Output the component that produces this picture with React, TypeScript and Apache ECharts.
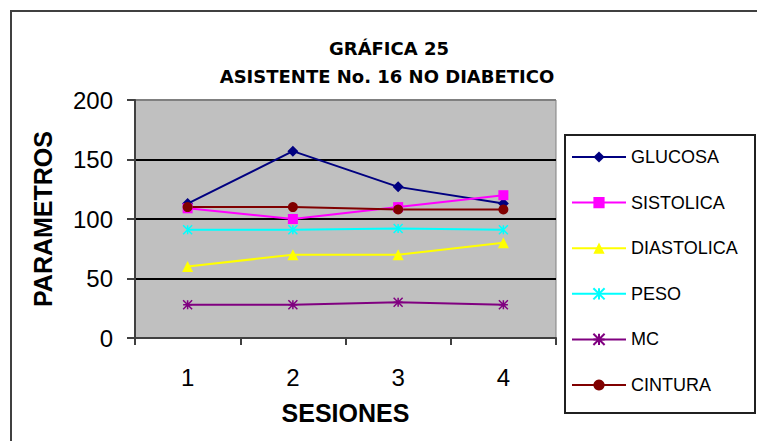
import React, { useEffect, useRef } from "react";
import * as echarts from "echarts";

const sesiones = ["1", "2", "3", "4"];
const glucosa = [113, 157, 127, 113];
const sistolica = [109, 100, 110, 120];
const diastolica = [60, 70, 70, 80];
const peso = [91, 91, 92, 91];
const mc = [28, 28, 30, 28];
const cintura = [110, 110, 108, 108];

const FONT = '"Liberation Sans", Arial, sans-serif';
const TFONT = '"DejaVu Sans", sans-serif';

export default function App() {
  const ref = useRef<HTMLDivElement>(null);
  useEffect(() => {
    const chart = echarts.init(ref.current!, null, { renderer: "svg" });
    const xPath = "path://M0,0L10,10M10,0L0,10M5,0L5,10";
    const starPath = "path://M0,0L10,10M10,0L0,10M5,0L5,10M0,5L10,5";
    const mk = (name: string, data: number[], color: string, symbol: string, size: number, stroke = false) => ({
      name,
      type: "line",
      data,
      symbol,
      symbolSize: size,
      lineStyle: { color, width: 2 },
      itemStyle: stroke
        ? { color: color, borderColor: color, borderWidth: 1.5 }
        : { color, borderColor: color, borderWidth: 0 },
      emphasis: { disabled: true },
    });
    chart.setOption({
      animation: false,
      backgroundColor: "#ffffff",
      textStyle: { fontFamily: FONT },
      title: [
        {
          text: "GRÁFICA 25",
          left: 389,
          top: 39,
          padding: 0,
          textAlign: "center",
          textStyle: { fontFamily: TFONT, fontSize: 18, fontWeight: "bold", color: "#000", lineHeight: 18 },
        },
        {
          text: "ASISTENTE No. 16 NO DIABETICO",
          left: 387,
          top: 67,
          padding: 0,
          textAlign: "center",
          textStyle: { fontFamily: TFONT, fontSize: 18, fontWeight: "bold", color: "#000", lineHeight: 18 },
        },
      ],
      graphic: [
        {
          type: "rect",
          shape: { x: 11, y: 11, width: 900, height: 600 },
          style: { fill: "none", stroke: "#404040", lineWidth: 2 },
          silent: true,
        },
        {
          type: "rect",
          shape: { x: 565, y: 135, width: 190, height: 278 },
          style: { fill: "#ffffff", stroke: "#202020", lineWidth: 2 },
          silent: true,
          z: -1,
        },
      ],
      legend: {
        orient: "vertical",
        left: 571,
        top: 148,
        padding: 0,
        itemWidth: 54,
        itemHeight: 14,
        itemGap: 27.6,
        textStyle: { fontFamily: FONT, fontSize: 18, color: "#000", lineHeight: 18 },
        z: 5,
      },
      grid: {
        left: 135,
        top: 100,
        right: 201,
        bottom: 103,
        show: true,
        backgroundColor: "#C0C0C0",
        borderColor: "#808080",
        borderWidth: 1,
      },
      xAxis: {
        type: "category",
        data: sesiones,
        boundaryGap: true,
        name: "SESIONES",
        nameLocation: "middle",
        nameGap: 62,
        nameTextStyle: { fontFamily: FONT, fontSize: 25, fontWeight: "bold", color: "#000" },
        axisLine: { lineStyle: { color: "#404040", width: 2 } },
        axisTick: { show: true, length: 7, lineStyle: { color: "#404040", width: 2 } },
        axisLabel: { fontFamily: FONT, fontSize: 24, color: "#000", margin: 27 },
        splitLine: { show: false },
      },
      yAxis: {
        type: "value",
        min: 0,
        max: 200,
        interval: 50,
        name: "PARAMETROS",
        nameLocation: "middle",
        nameRotate: 90,
        nameGap: 80,
        nameTextStyle: { fontFamily: FONT, fontSize: 25, fontWeight: "bold", color: "#000" },
        axisLine: { show: true, lineStyle: { color: "#404040", width: 2 } },
        axisTick: { show: true, length: 8, lineStyle: { color: "#404040", width: 2 } },
        axisLabel: { fontFamily: FONT, fontSize: 24, color: "#000", margin: 22 },
        splitLine: {
          show: true,
          lineStyle: { color: ["#000", "#000", "#000", "#000", "#808080"], width: 2 },
        },
      },
      series: [
        mk("GLUCOSA", glucosa, "#000080", "diamond", 11),
        mk("SISTOLICA", sistolica, "#FF00FF", "rect", 10),
        mk("DIASTOLICA", diastolica, "#FFFF00", "triangle", 11),
        mk("PESO", peso, "#00FFFF", xPath, 9, true),
        mk("MC", mc, "#800080", starPath, 9, true),
        mk("CINTURA", cintura, "#800000", "circle", 10),
      ],
    });
    return () => chart.dispose();
  }, []);
  return (
    <div
      ref={ref}
      style={{ position: "fixed", left: 0, top: 0, width: 757, height: 441 }}
    />
  );
}
